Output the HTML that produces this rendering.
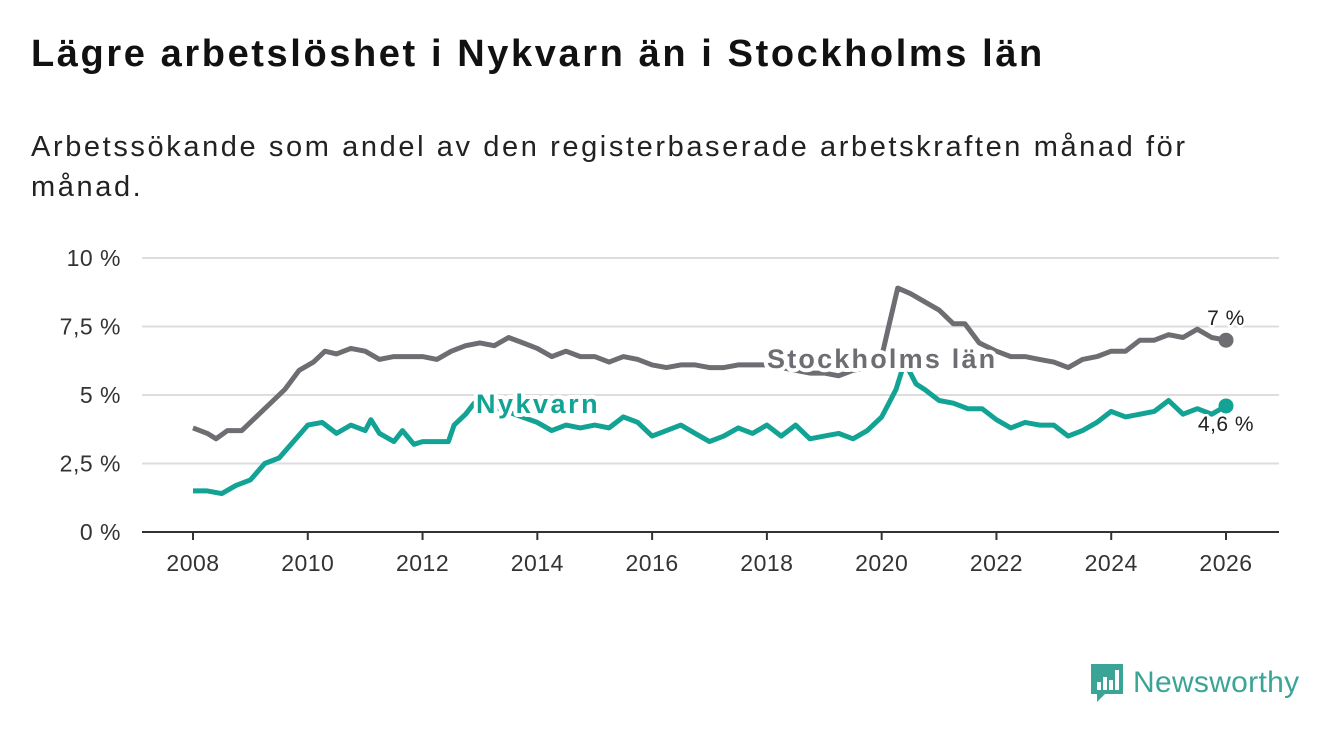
<!DOCTYPE html>
<html><head><meta charset="utf-8"><style>
body{margin:0;width:1340px;height:734px;background:#fff;font-family:"Liberation Sans",sans-serif;overflow:hidden;position:relative}
h1{position:absolute;left:31px;top:33px;margin:0;font-size:38px;font-weight:bold;color:#111;letter-spacing:2.6px;white-space:nowrap}
.sub{position:absolute;left:31px;top:127px;font-size:29px;color:#222;line-height:40px;width:1200px;letter-spacing:2.6px}
</style></head><body>
<h1>Lägre arbetslöshet i Nykvarn än i Stockholms län</h1>
<div class="sub">Arbetssökande som andel av den registerbaserade arbetskraften månad för månad.</div>
<svg id="c" width="1340" height="734" style="position:absolute;left:0;top:0"></svg>
<div style="position:absolute;left:1089px;top:662px;display:flex;align-items:center">
<svg width="36" height="42"><path d="M2 2h32v30H16l-8 8v-8H2z" fill="#3aa597"/><rect x="8" y="20" width="4" height="8" fill="#fff"/><rect x="14" y="15" width="4" height="13" fill="#fff"/><rect x="20" y="18" width="4" height="10" fill="#fff"/><rect x="26" y="8" width="4" height="20" fill="#fff"/></svg>
<span style="font-size:30px;color:#3aa597;margin-left:8px;letter-spacing:0.3px">Newsworthy</span></div>
<script>
const yTicks=[0,2.5,5,7.5,10];
const yTickLabels=["0 %","2,5 %","5 %","7,5 %","10 %"];
const xTicks=[2008,2010,2012,2014,2016,2018,2020,2022,2024,2026];
const sthlmT=[2008,2008.25,2008.4,2008.6,2008.85,2009.1,2009.4,2009.6,2009.85,2010.1,2010.3,2010.5,2010.75,2011,2011.25,2011.5,2011.75,2012,2012.25,2012.5,2012.75,2013,2013.25,2013.5,2013.75,2014,2014.25,2014.5,2014.75,2015,2015.25,2015.5,2015.75,2016,2016.25,2016.5,2016.75,2017,2017.25,2017.5,2017.75,2018,2018.25,2018.5,2018.75,2019,2019.25,2019.5,2019.75,2020,2020.1,2020.28,2020.5,2020.75,2021,2021.25,2021.45,2021.7,2022,2022.25,2022.5,2022.75,2023,2023.25,2023.5,2023.75,2024,2024.25,2024.5,2024.75,2025,2025.25,2025.5,2025.75,2026];
const sthlmV=[3.8,3.6,3.4,3.7,3.7,4.2,4.8,5.2,5.9,6.2,6.6,6.5,6.7,6.6,6.3,6.4,6.4,6.4,6.3,6.6,6.8,6.9,6.8,7.1,6.9,6.7,6.4,6.6,6.4,6.4,6.2,6.4,6.3,6.1,6.0,6.1,6.1,6.0,6.0,6.1,6.1,6.1,6.0,5.9,5.8,5.8,5.7,5.9,6.0,6.4,7.3,8.9,8.7,8.4,8.1,7.6,7.6,6.9,6.6,6.4,6.4,6.3,6.2,6.0,6.3,6.4,6.6,6.6,7.0,7.0,7.2,7.1,7.4,7.1,7.0];
const nykT=[2008,2008.25,2008.5,2008.75,2009,2009.25,2009.5,2009.75,2010,2010.25,2010.5,2010.75,2011,2011.1,2011.25,2011.5,2011.65,2011.85,2012,2012.25,2012.45,2012.55,2012.75,2012.9,2013.2,2013.6,2014,2014.25,2014.5,2014.75,2015,2015.25,2015.5,2015.75,2016,2016.25,2016.5,2016.75,2017,2017.25,2017.5,2017.75,2018,2018.25,2018.5,2018.75,2019,2019.25,2019.5,2019.75,2020,2020.25,2020.4,2020.6,2020.75,2021,2021.25,2021.5,2021.75,2022,2022.25,2022.5,2022.75,2023,2023.25,2023.5,2023.75,2024,2024.25,2024.5,2024.75,2025,2025.25,2025.5,2025.75,2026];
const nykV=[1.5,1.5,1.4,1.7,1.9,2.5,2.7,3.3,3.9,4.0,3.6,3.9,3.7,4.1,3.6,3.3,3.7,3.2,3.3,3.3,3.3,3.9,4.3,4.7,4.6,4.3,4.0,3.7,3.9,3.8,3.9,3.8,4.2,4.0,3.5,3.7,3.9,3.6,3.3,3.5,3.8,3.6,3.9,3.5,3.9,3.4,3.5,3.6,3.4,3.7,4.2,5.2,6.2,5.4,5.2,4.8,4.7,4.5,4.5,4.1,3.8,4.0,3.9,3.9,3.5,3.7,4.0,4.4,4.2,4.3,4.4,4.8,4.3,4.5,4.3,4.6];
const svg=document.getElementById('c'),NS='http://www.w3.org/2000/svg';
const xs=t=>193+(t-2008)*(1226-193)/18, ys=v=>532-v*27.4;
function mk(tag,attrs,parent){const e=document.createElementNS(NS,tag);for(const k in attrs)e.setAttribute(k,attrs[k]);(parent||svg).appendChild(e);return e;}
yTicks.forEach((v,i)=>{
 const l=mk('line',{x1:142,x2:1279,y1:ys(v),y2:ys(v),stroke:v===0?'#333':'#ddd','stroke-width':2});
 
 
 const t=mk('text',{x:121,y:ys(v)+8,'text-anchor':'end','font-size':23,fill:'#333','letter-spacing':0.5,'font-family':'Liberation Sans, sans-serif'});t.textContent=yTickLabels[i];
 
 
});
xTicks.forEach(y=>{
 const l=mk('line',{x1:xs(y),x2:xs(y),y1:532,y2:540,stroke:'#333','stroke-width':2});
 
 
 const t=mk('text',{x:xs(y),y:571,'text-anchor':'middle','font-size':23,fill:'#333','letter-spacing':0.5,'font-family':'Liberation Sans, sans-serif'});t.textContent=y;
 
 
});
function line(T,V,col,name){
 const p=mk('path',{d:T.map((t,i)=>(i?'L':'M')+xs(t).toFixed(1)+' '+ys(V[i]).toFixed(1)).join(''),fill:'none',stroke:col,'stroke-width':5,'stroke-linejoin':'round'});
 
 
 const c=mk('circle',{cx:xs(T[T.length-1]),cy:ys(V[V.length-1]),r:7.5,fill:col});
 
 
}
line(sthlmT,sthlmV,'#6e6d72','stockholm-line');
line(nykT,nykV,'#12a395','nykvarn-line');
function lab(x,y,s,col,name,w,size,anchor,ls){
 const t=mk('text',{x:x,y:y,'font-size':size,'font-weight':w,fill:col,stroke:'#fff','stroke-width':w==='bold'?8:5,'paint-order':'stroke','stroke-linejoin':'round','text-anchor':anchor||'start','letter-spacing':ls||0,'font-family':'Liberation Sans, sans-serif'});
 t.textContent=s;
 
 
}
lab(476,413,'Nykvarn','#12a395','nykvarn-label','bold',27,'start',2.5);
lab(767,368,'Stockholms län','#6e6d72','stockholm-label','bold',27,'start',2.2);
lab(1226,325,'7 %','#222','stockholm-end-value','normal',21,'middle',0.5);
lab(1226,431,'4,6 %','#222','nykvarn-end-value','normal',21,'middle',0.5);
</script>
</body></html>
